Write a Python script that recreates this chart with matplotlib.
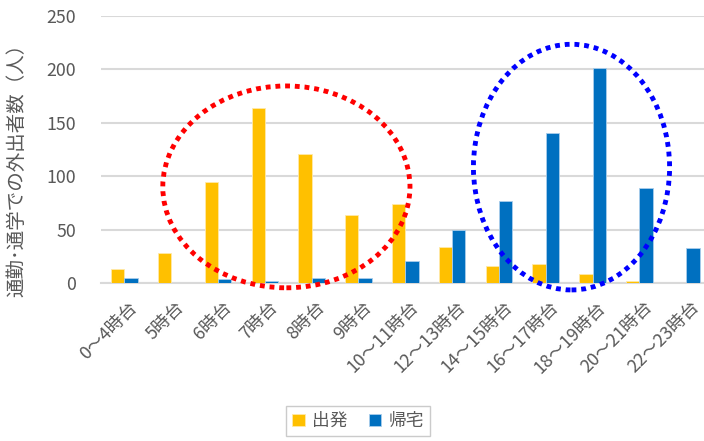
import matplotlib
matplotlib.use("Agg")
import matplotlib.pyplot as plt
import matplotlib.transforms as mtransforms
from matplotlib.patches import Ellipse
import numpy as np

plt.rcParams['font.family'] = ['Noto Sans CJK JP', 'DejaVu Sans']

categories = ["0～4時台", "5時台", "6時台", "7時台", "8時台", "9時台",
              "10～11時台", "12～13時台", "14～15時台", "16～17時台",
              "18～19時台", "20～21時台", "22～23時台"]
departure = [13, 28, 95, 164, 121, 64, 74, 34, 16, 18, 8, 2, 0]
return_home = [5, 0, 4, 2, 5, 5, 21, 50, 77, 140, 201, 89, 33]
series_names = ["出発", "帰宅"]
y_ticks = [0, 50, 100, 150, 200, 250]
y_label = "通勤･通学での外出者数（人）"

yellow = "#FFC000"
blue = "#0070C0"
text_gray = "#595959"
grid_gray = "#D9D9D9"

fig = plt.figure(figsize=(7.04, 4.41), dpi=100)
ax = fig.add_axes([101 / 704, 1 - 283 / 441, 603 / 704, 267 / 441])

x = np.arange(len(categories))
w = 0.285
ax.bar(x - w / 2, departure, width=w, color=yellow, label=series_names[0],
       edgecolor="#FFE9A8", linewidth=0.6, zorder=3)
ax.bar(x + w / 2, return_home, width=w, color=blue, label=series_names[1],
       edgecolor="#A9CDEB", linewidth=0.6, zorder=3)

ax.set_xlim(-0.5, 12.38)
ax.set_ylim(0, 250)
ax.set_yticks(y_ticks)
ax.yaxis.grid(True, color=grid_gray, linewidth=1.5, zorder=0)
ax.set_axisbelow(True)
for s in ["top", "right", "left"]:
    ax.spines[s].set_visible(False)
ax.spines["bottom"].set_color(grid_gray)
ax.spines["bottom"].set_linewidth(1.5)
ax.tick_params(axis="both", length=0, colors=text_gray, labelsize=12.8)
ax.tick_params(axis="y", pad=18)
ax.set_xticks(x)
ax.set_xticklabels(categories, rotation=45, ha="right", va="top",
                   rotation_mode="anchor")
ax.tick_params(axis="x", pad=11)
shift = mtransforms.ScaledTranslation(4 / 100, 0, fig.dpi_scale_trans)
for lbl in ax.get_xticklabels():
    lbl.set_transform(lbl.get_transform() + shift)

fig.text(17 / 704, 1 - 165 / 441, y_label, rotation=90, ha="center",
         va="center", color=text_gray, fontsize=14)

# dotted highlight ellipses around the morning and evening peaks
ax.add_patch(Ellipse((3.46, 90), 5.28, 189, fill=False, edgecolor="#FF0000",
                     linewidth=3.5, linestyle=(0, (1, 1)), clip_on=False,
                     zorder=5))
ax.add_patch(Ellipse((9.55, 108.5), 4.19, 230, fill=False, edgecolor="#0000FF",
                     linewidth=3.5, linestyle=(0, (1, 1)), clip_on=False,
                     zorder=5))

leg = fig.legend(loc="center", bbox_to_anchor=(358 / 704, 1 - 421 / 441),
                 ncol=2, frameon=True, fancybox=False, fontsize=12.8,
                 handlelength=0.7, handleheight=0.7, handletextpad=0.4,
                 columnspacing=1.2, borderpad=0.35)
leg.get_frame().set_edgecolor("#BFBFBF")
leg.get_frame().set_linewidth(1.0)
for t in leg.get_texts():
    t.set_color(text_gray)

fig.savefig("out.png", dpi=100)
